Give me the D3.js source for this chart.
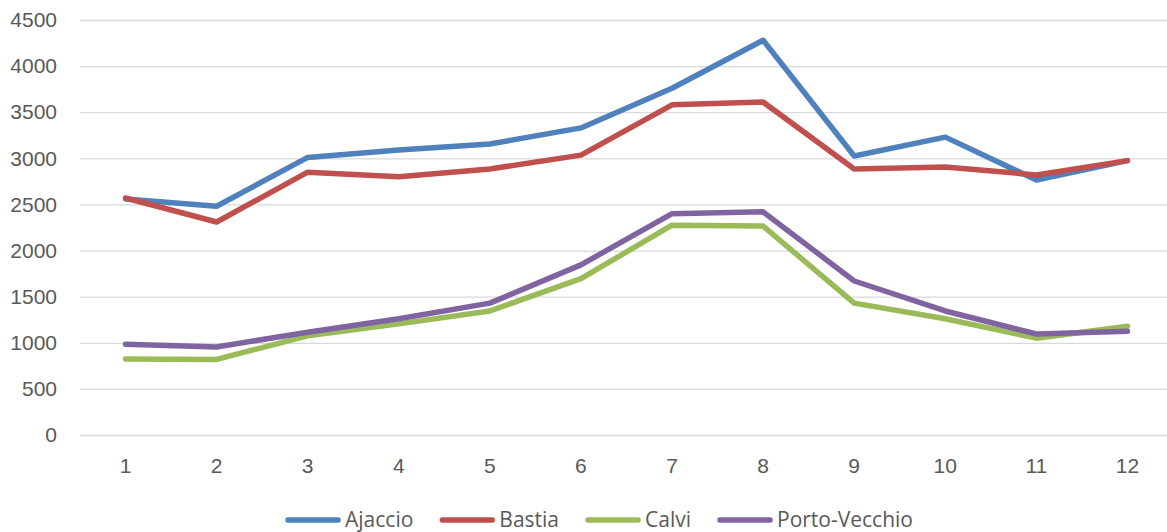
<!DOCTYPE html>
<html>
<head>
<meta charset="utf-8">
<script src="https://cdn.jsdelivr.net/npm/d3@7"></script>
<style>
  body { margin: 0; background: #fff; }
  svg { display: block; }
</style>
</head>
<body>
<div id="chart"></div>
<script>
const months = [1, 2, 3, 4, 5, 6, 7, 8, 9, 10, 11, 12]
const seriesNames = ["Ajaccio", "Bastia", "Calvi", "Porto-Vecchio"]
const ajaccio = [2560, 2480, 3010, 3090, 3155, 3330, 3760, 4280, 3025, 3230, 2765, 2975]
const bastia = [2570, 2310, 2850, 2800, 2885, 3035, 3580, 3610, 2885, 2905, 2820, 2975]
const calvi = [825, 820, 1075, 1205, 1345, 1695, 2275, 2265, 1430, 1260, 1050, 1180]
const portoVecchio = [985, 955, 1115, 1260, 1430, 1845, 2400, 2420, 1670, 1345, 1095, 1125]
const yTicks = [0, 500, 1000, 1500, 2000, 2500, 3000, 3500, 4000, 4500]
const colors = ["#4F81BD", "#C0504D", "#9BBB59", "#8064A2"]

const allSeries = [ajaccio, bastia, calvi, portoVecchio]

const W = 1167, H = 532
const margin = { top: 20, right: -6, bottom: 97, left: 80 }
const width = W - margin.left - margin.right,
    height = H - margin.top - margin.bottom

const svg = d3.select("#chart").append("svg")
    .attr("width", W)
    .attr("height", H)
    .style("font-family", "'Open Sans', sans-serif")

const g = svg.append("g")
    .attr("transform", "translate(" + margin.left + "," + margin.top + ")")

let x = d3.scaleBand()
    .domain(months)
    .range([0, width])

let y = d3.scaleLinear()
    .domain([0, 4500])
    .range([height, 0])

// gridlines
g.append("g")
    .call(d3.axisLeft(y).tickValues(yTicks).tickSize(-width).tickFormat(""))
    .call(a => {
        a.select(".domain").remove()
        a.selectAll(".tick line").attr("stroke", "#D9D9D9").attr("stroke-width", 1.3)
    })

// y labels
g.append("g")
    .call(d3.axisLeft(y).tickValues(yTicks).tickSize(0).tickPadding(23).tickFormat(d3.format("d")))
    .call(a => {
        a.select(".domain").remove()
        a.selectAll(".tick text").attr("fill", "#595959").attr("font-size", 21)
    })

// x labels
g.append("g")
    .attr("transform", "translate(0," + height + ")")
    .call(d3.axisBottom(x).tickSize(0).tickPadding(23))
    .call(a => {
        a.select(".domain").remove()
        a.selectAll(".tick text").attr("fill", "#595959").attr("font-size", 21)
    })

const line = d3.line()
    .x((d, i) => x(months[i]) + x.bandwidth() / 2)
    .y(d => y(d))

allSeries.forEach((s, i) => {
    g.append("path")
        .datum(s)
        .attr("fill", "none")
        .attr("stroke", colors[i])
        .attr("stroke-width", 5.5)
        .attr("stroke-linejoin", "round")
        .attr("stroke-linecap", "round")
        .attr("d", line)
})

// legend
const legend = svg.append("g").attr("transform", "translate(0,520)")
let items = legend.selectAll("g").data(seriesNames).enter().append("g")
items.append("line")
    .attr("x1", 3).attr("x2", 53)
    .attr("stroke", (d, i) => colors[i])
    .attr("stroke-width", 5.5)
    .attr("stroke-linecap", "round")
items.append("text")
    .attr("x", 60)
    .attr("dy", "0.33em")
    .attr("font-size", 21)
    .attr("fill", "#595959")
    .text(d => d)

let widths = []
items.each(function () { widths.push(this.getBBox().width) })
const gap = 29
let total = d3.sum(widths) + gap * (widths.length - 1)
let cx = (W - total) / 2 + 14
items.attr("transform", (d, i) => {
    let t = "translate(" + cx + ",0)"
    cx += widths[i] + gap
    return t
})
</script>
</body>
</html>
